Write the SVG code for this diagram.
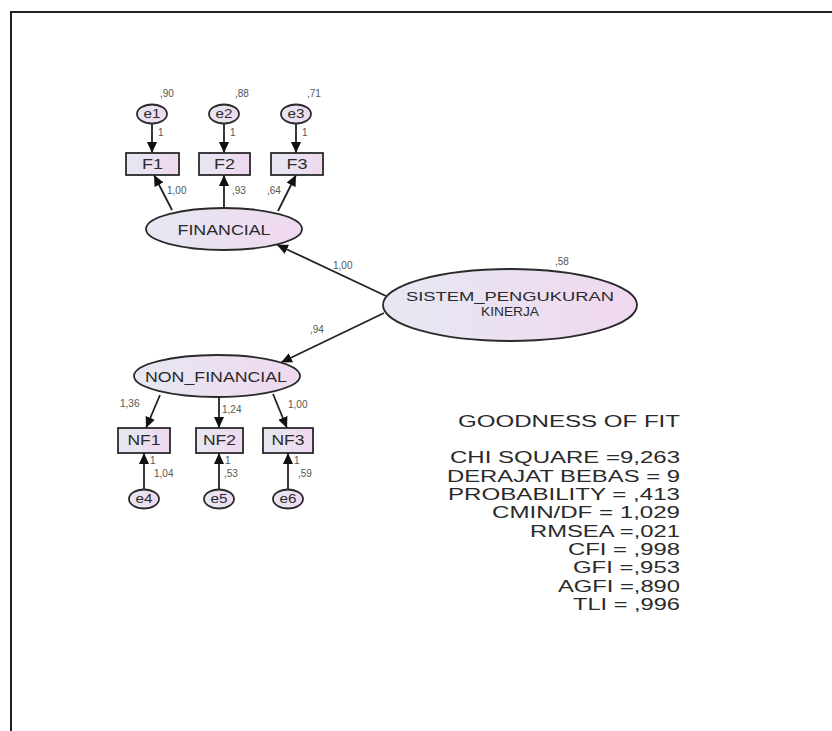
<svg xmlns="http://www.w3.org/2000/svg" width="832" height="731" viewBox="0 0 832 731">
<defs>
<linearGradient id="fillg" x1="0" y1="0" x2="1" y2="0">
<stop offset="0" stop-color="#e6e8f2"/>
<stop offset="1" stop-color="#f0d8f0"/>
</linearGradient>
<marker id="arr" markerUnits="userSpaceOnUse" markerWidth="12" markerHeight="10" refX="11" refY="5" orient="auto">
<path d="M0,0 L11,5 L0,10 Z" fill="#111"/>
</marker>
</defs>
<style>
.shape{fill:url(#fillg);stroke:#2a2a2a;stroke-width:1.8}
.lbl{font-family:"Liberation Sans",Arial,sans-serif;fill:#2a2a2a;text-anchor:middle}
.sm{font-family:"Liberation Sans",Arial,sans-serif;fill:#555;font-size:10px}
.gof{font-family:"Liberation Sans",Arial,sans-serif;fill:#2a2a2a;font-size:16px;text-anchor:end}
.con{stroke:#222;stroke-width:1.8;fill:none;marker-end:url(#arr)}
</style>
<rect x="0" y="0" width="832" height="731" fill="#fff"/>
<path d="M11,731 L11,12 L832,12" fill="none" stroke="#222" stroke-width="2"/>

<g id="connectors">
<line class="con" x1="152" y1="123.5" x2="152" y2="153"/>
<line class="con" x1="224" y1="123.5" x2="224" y2="153"/>
<line class="con" x1="296" y1="123.5" x2="296" y2="153"/>
<line class="con" x1="172" y1="210" x2="154" y2="175"/>
<line class="con" x1="224" y1="208" x2="224" y2="175"/>
<line class="con" x1="278" y1="211" x2="296" y2="175"/>
<line class="con" x1="386" y1="296" x2="277" y2="244.7"/>
<line class="con" x1="384" y1="313" x2="281" y2="362.5"/>
<line class="con" x1="160" y1="395" x2="146" y2="428"/>
<line class="con" x1="219" y1="397" x2="219" y2="428"/>
<line class="con" x1="273" y1="394" x2="287" y2="428"/>
<line class="con" x1="144" y1="489.5" x2="144" y2="453"/>
<line class="con" x1="219" y1="489.5" x2="219" y2="453"/>
<line class="con" x1="288" y1="489.5" x2="288" y2="453"/>
<text class="sm" x="158" y="136">1</text>
<text class="sm" x="230" y="136">1</text>
<text class="sm" x="302" y="136">1</text>
<text class="sm" x="167" y="194">1,00</text>
<text class="sm" x="232" y="194">,93</text>
<text class="sm" x="267" y="194">,64</text>
<text class="sm" x="333" y="269">1,00</text>
<text class="sm" x="310" y="333">,94</text>
<text class="sm" x="120" y="407">1,36</text>
<text class="sm" x="222" y="413">1,24</text>
<text class="sm" x="288" y="408">1,00</text>
<text class="sm" x="150" y="464">1</text>
<text class="sm" x="225" y="464">1</text>
<text class="sm" x="294" y="464">1</text>
</g>

<g id="e1"><ellipse class="shape" cx="152" cy="114" rx="15" ry="9.5"/><text class="lbl" x="152" y="118" font-size="12" textLength="17" lengthAdjust="spacingAndGlyphs">e1</text><text class="sm" x="160" y="97">,90</text></g>
<g id="e2"><ellipse class="shape" cx="224" cy="114" rx="15" ry="9.5"/><text class="lbl" x="224" y="118" font-size="12" textLength="17" lengthAdjust="spacingAndGlyphs">e2</text><text class="sm" x="235" y="97">,88</text></g>
<g id="e3"><ellipse class="shape" cx="296" cy="114" rx="15" ry="9.5"/><text class="lbl" x="296" y="118" font-size="12" textLength="17" lengthAdjust="spacingAndGlyphs">e3</text><text class="sm" x="307" y="97">,71</text></g>

<g id="F1"><rect class="shape" x="126" y="153" width="53" height="22"/><text class="lbl" x="152.5" y="169" font-size="14" textLength="21" lengthAdjust="spacingAndGlyphs">F1</text></g>
<g id="F2"><rect class="shape" x="199" y="153" width="51" height="22"/><text class="lbl" x="224.5" y="169" font-size="14" textLength="21" lengthAdjust="spacingAndGlyphs">F2</text></g>
<g id="F3"><rect class="shape" x="271" y="153" width="52" height="22"/><text class="lbl" x="297" y="169" font-size="14" textLength="21" lengthAdjust="spacingAndGlyphs">F3</text></g>

<g id="FINANCIAL"><ellipse class="shape" cx="224" cy="229" rx="78" ry="21"/><text class="lbl" x="224" y="235" font-size="14" textLength="93" lengthAdjust="spacingAndGlyphs">FINANCIAL</text></g>

<g id="SISTEM_PENGUKURAN_KINERJA"><ellipse class="shape" cx="510" cy="305" rx="127" ry="36"/>
<text class="lbl" x="510" y="301" font-size="13" textLength="208" lengthAdjust="spacingAndGlyphs">SISTEM_PENGUKURAN</text>
<text class="lbl" x="510" y="316" font-size="13" textLength="58" lengthAdjust="spacingAndGlyphs">KINERJA</text>
<text class="sm" x="555" y="265">,58</text></g>

<g id="NON_FINANCIAL"><ellipse class="shape" cx="217" cy="376" rx="83" ry="21"/><text class="lbl" x="216" y="382" font-size="14" textLength="142" lengthAdjust="spacingAndGlyphs">NON_FINANCIAL</text></g>

<g id="NF1"><rect class="shape" x="118" y="428" width="52" height="25"/><text class="lbl" x="144" y="445" font-size="14" textLength="33" lengthAdjust="spacingAndGlyphs">NF1</text></g>
<g id="NF2"><rect class="shape" x="196" y="428" width="47" height="25"/><text class="lbl" x="219.5" y="445" font-size="14" textLength="33" lengthAdjust="spacingAndGlyphs">NF2</text></g>
<g id="NF3"><rect class="shape" x="263" y="428" width="50" height="25"/><text class="lbl" x="288" y="445" font-size="14" textLength="33" lengthAdjust="spacingAndGlyphs">NF3</text></g>

<g id="e4"><ellipse class="shape" cx="144" cy="499" rx="15" ry="9.5"/><text class="lbl" x="144" y="503" font-size="12" textLength="17" lengthAdjust="spacingAndGlyphs">e4</text><text class="sm" x="154" y="477">1,04</text></g>
<g id="e5"><ellipse class="shape" cx="219" cy="499" rx="15" ry="9.5"/><text class="lbl" x="219" y="503" font-size="12" textLength="17" lengthAdjust="spacingAndGlyphs">e5</text><text class="sm" x="224" y="477">,53</text></g>
<g id="e6"><ellipse class="shape" cx="288" cy="499" rx="15" ry="9.5"/><text class="lbl" x="288" y="503" font-size="12" textLength="17" lengthAdjust="spacingAndGlyphs">e6</text><text class="sm" x="298" y="477">,59</text></g>

<g id="goodness_of_fit">
<text class="gof" x="680" y="426.7" textLength="222" lengthAdjust="spacingAndGlyphs">GOODNESS OF FIT</text>
<text class="gof" x="680" y="463.3" textLength="230" lengthAdjust="spacingAndGlyphs">CHI SQUARE =9,263</text>
<text class="gof" x="680" y="481.7" textLength="233" lengthAdjust="spacingAndGlyphs">DERAJAT BEBAS = 9</text>
<text class="gof" x="680" y="500" textLength="232" lengthAdjust="spacingAndGlyphs">PROBABILITY = ,413</text>
<text class="gof" x="680" y="518.3" textLength="188" lengthAdjust="spacingAndGlyphs">CMIN/DF = 1,029</text>
<text class="gof" x="680" y="536.7" textLength="150" lengthAdjust="spacingAndGlyphs">RMSEA =,021</text>
<text class="gof" x="680" y="555" textLength="112" lengthAdjust="spacingAndGlyphs">CFI = ,998</text>
<text class="gof" x="680" y="573.3" textLength="107" lengthAdjust="spacingAndGlyphs">GFI =,953</text>
<text class="gof" x="680" y="591.7" textLength="122" lengthAdjust="spacingAndGlyphs">AGFI =,890</text>
<text class="gof" x="680" y="610" textLength="107" lengthAdjust="spacingAndGlyphs">TLI = ,996</text>
</g>
</svg>
